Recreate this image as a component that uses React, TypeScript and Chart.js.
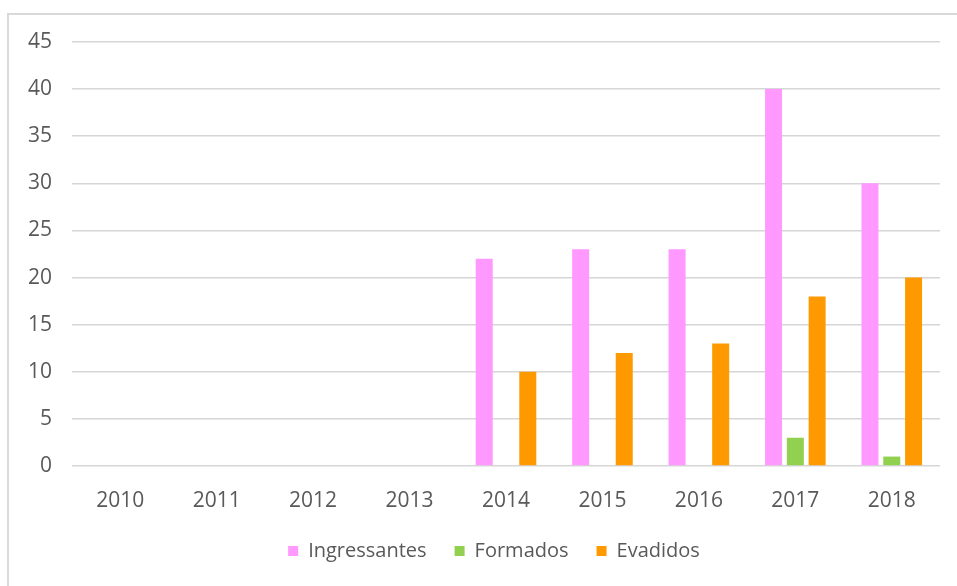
import React, { useEffect, useRef } from "react";
import { Chart, registerables } from "chart.js";

Chart.register(...registerables);

const categories = ["2010", "2011", "2012", "2013", "2014", "2015", "2016", "2017", "2018"];
const ingressantes = [0, 0, 0, 0, 22, 23, 23, 40, 30];
const formados = [0, 0, 0, 0, 0, 0, 0, 3, 1];
const evadidos = [0, 0, 0, 0, 10, 12, 13, 18, 20];

const FONT = "'Open Sans', 'Noto Sans', sans-serif";
const TEXT = "#595959";

const shiftLegend = {
  id: "shiftLegend",
  afterLayout(chart: any) {
    const lg = chart.legend;
    if (lg) {
      lg.left += 24;
      lg.right += 24;
    }
  },
};

export default function App() {
  const ref = useRef<HTMLCanvasElement | null>(null);

  useEffect(() => {
    if (!ref.current) return;
    const chart = new Chart(ref.current, {
      type: "bar",
      data: {
        labels: categories,
        datasets: [
          { label: "Ingressantes", data: ingressantes, backgroundColor: "#FF99FF", borderWidth: 0 },
          { label: "Formados", data: formados, backgroundColor: "#92D050", borderWidth: 0 },
          { label: "Evadidos", data: evadidos, backgroundColor: "#FF9900", borderWidth: 0 },
        ],
      },
      options: {
        animation: false,
        responsive: false,
        maintainAspectRatio: false,
        datasets: { bar: { categoryPercentage: 0.678, barPercentage: 0.78 } },
        layout: { padding: { left: 0, right: 17, top: 42, bottom: 15 } },
        scales: {
          x: {
            grid: { display: false, drawTicks: false },
            border: { display: false },
            ticks: { color: TEXT, font: { family: FONT, size: 21 }, padding: 22, maxRotation: 0 },
            afterFit: (s: any) => { s.height = 47; },
          },
          y: {
            min: 0,
            max: 45,
            grid: { color: "#d6d6d6", lineWidth: 1.5, drawTicks: false },
            border: { display: false },
            ticks: { stepSize: 5, color: TEXT, font: { family: FONT, size: 21 }, padding: 20 },
            afterFit: (s: any) => { s.width = 72; },
          },
        },
        plugins: {
          legend: {
            position: "bottom",
            labels: {
              boxWidth: 10,
              boxHeight: 10,
              padding: 28,
              color: TEXT,
              font: { family: FONT, size: 20 },
            },
          },
          tooltip: { enabled: false },
        },
      },
      plugins: [shiftLegend],
    });
    return () => chart.destroy();
  }, []);

  return (
    <div>
      <div
        style={{
          position: "absolute",
          left: 7,
          top: 13,
          width: 948,
          height: 571,
          borderTop: "2px solid #d9d9d9",
          borderLeft: "2px solid #d9d9d9",
        }}
      />
      <div style={{ position: "absolute", left: 0, top: 0, width: 957, height: 586 }}>
        <canvas ref={ref} width={957} height={586} style={{ display: "block" }} />
      </div>
    </div>
  );
}
